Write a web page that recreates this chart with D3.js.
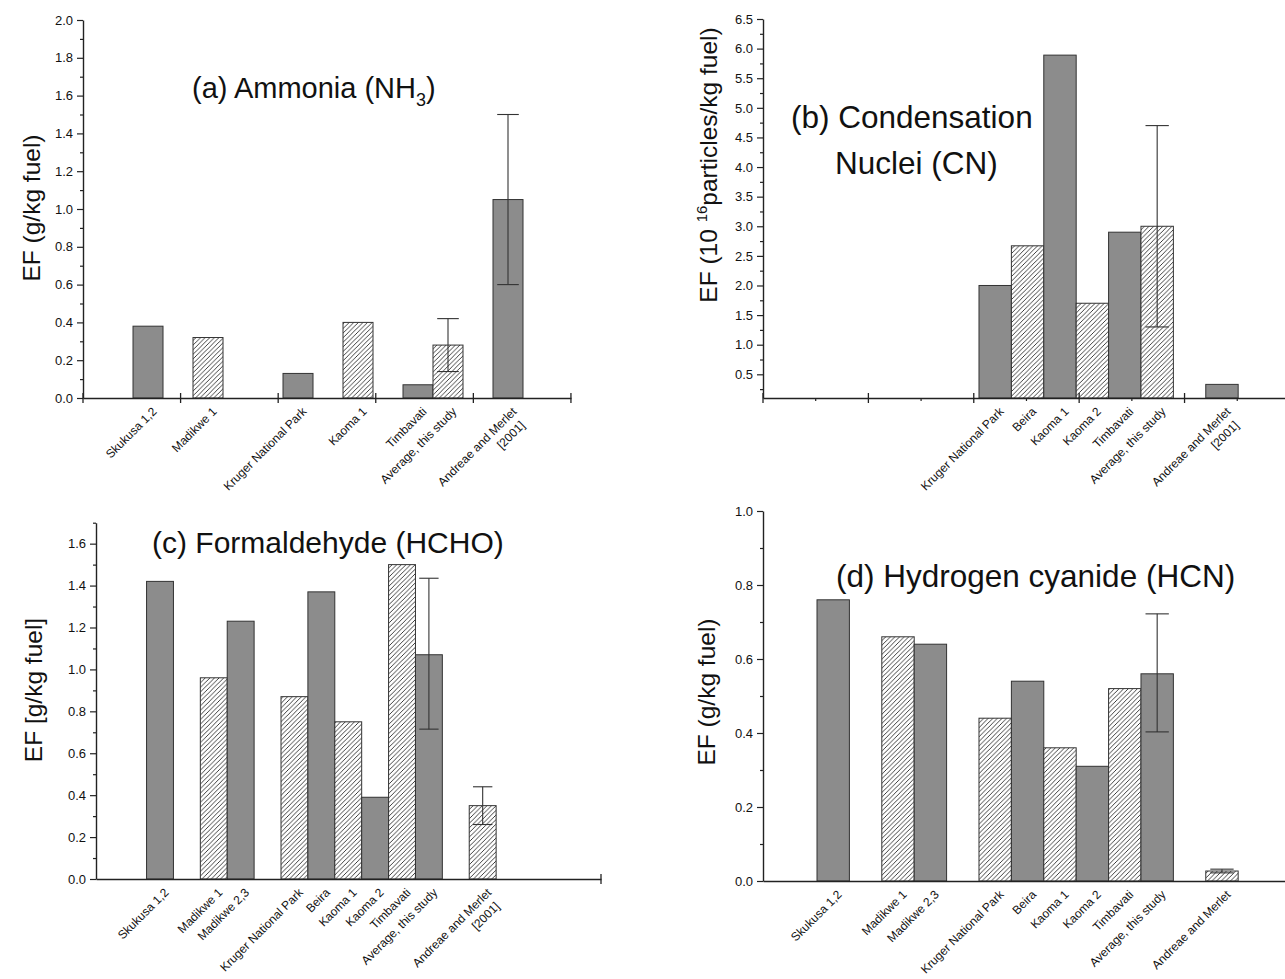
<!DOCTYPE html>
<html>
<head>
<meta charset="utf-8">
<script src="https://cdn.jsdelivr.net/npm/d3@7"></script>
<style>
  html, body { margin: 0; padding: 0; background: #fff; }
  svg { display: block; font-family: "Liberation Sans", Arial, Helvetica, sans-serif; }
</style>
</head>
<body>
<svg id="chart" width="1285" height="979"></svg>
<script>
// ---------------- DATA ----------------
const categories = ["Skukusa 1,2", "Madikwe 1", "Madikwe 2,3", "Kruger National Park", "Beira",
                    "Kaoma 1", "Kaoma 2", "Timbavati", "Average, this study", "Andreae and Merlet"];
// x position of each category on the (numeric) category axis
const categoryX = [0, 2, 3, 5, 6, 7, 8, 9, 10, 12];
const refYear = "[2001]";

// (a) Ammonia EF, g/kg fuel
const ammonia     = [0.38, 0.32, null, 0.13, null, 0.40, null, 0.07, 0.28, 1.05];
const ammoniaLow  = [null, null, null, null, null, null, null, null, 0.14, 0.60];
const ammoniaHigh = [null, null, null, null, null, null, null, null, 0.42, 1.50];

// (b) Condensation nuclei EF, 10^16 particles/kg fuel
const cn     = [null, null, null, 2.00, 2.67, 5.89, 1.70, 2.90, 3.00, 0.33];
const cnLow  = [null, null, null, null, null, null, null, null, 1.30, null];
const cnHigh = [null, null, null, null, null, null, null, null, 4.70, null];

// (c) Formaldehyde EF, g/kg fuel
const hcho     = [1.42, 0.96, 1.23, 0.87, 1.37, 0.75, 0.39, 1.50, 1.07, 0.35];
const hchoLow  = [null, null, null, null, null, null, null, null, 0.715, 0.26];
const hchoHigh = [null, null, null, null, null, null, null, null, 1.435, 0.44];

// (d) Hydrogen cyanide EF, g/kg fuel
const hcn     = [0.76, 0.66, 0.64, 0.44, 0.54, 0.36, 0.31, 0.52, 0.56, 0.027];
const hcnLow  = [null, null, null, null, null, null, null, null, 0.403, 0.022];
const hcnHigh = [null, null, null, null, null, null, null, null, 0.722, 0.032];

// y tick values
const ticksA = [0.0, 0.2, 0.4, 0.6, 0.8, 1.0, 1.2, 1.4, 1.6, 1.8, 2.0];
const minorA = [0.1, 0.3, 0.5, 0.7, 0.9, 1.1, 1.3, 1.5, 1.7, 1.9];
const ticksB = [0.5, 1.0, 1.5, 2.0, 2.5, 3.0, 3.5, 4.0, 4.5, 5.0, 5.5, 6.0, 6.5];
const minorB = [0.25, 0.75, 1.25, 1.75, 2.25, 2.75, 3.25, 3.75, 4.25, 4.75, 5.25, 5.75, 6.25];
const ticksC = [0.0, 0.2, 0.4, 0.6, 0.8, 1.0, 1.2, 1.4, 1.6];
const minorC = [0.1, 0.3, 0.5, 0.7, 0.9, 1.1, 1.3, 1.5, 1.7];
const ticksD = [0.0, 0.2, 0.4, 0.6, 0.8, 1.0];
const minorD = [0.1, 0.3, 0.5, 0.7, 0.9];

// ---------------- DRAWING ----------------
const svg = d3.select("#chart");
svg.append("rect").attr("width", 1285).attr("height", 979).attr("fill", "#fff");

const defs = svg.append("defs");
const pat = defs.append("pattern").attr("id", "hatch")
  .attr("patternUnits", "userSpaceOnUse").attr("width", 4.6).attr("height", 4.6);
pat.append("rect").attr("width", 4.6).attr("height", 4.6).attr("fill", "#fff");
pat.append("path").attr("d", "M-1,1 l2,-2 M0,4.6 l4.6,-4.6 M3.6,5.6 l2,-2")
  .attr("stroke", "#111").attr("stroke-width", 0.8);

const GRAY = "#8c8c8c";
const AX = "#222";

function fmt(v) { return d3.format(".1f")(v); }

function panel(cfg) {
  const g = svg.append("g");
  const x = d3.scaleLinear().domain(cfg.xDom).range(cfg.xPx);
  const y = d3.scaleLinear().domain(cfg.yDom).range(cfg.yPx);
  const slot = x(1) - x(0);
  const y0 = cfg.yPx[0];

  // bars
  const present = cfg.values.map((v, i) => ({ v, i })).filter(d => d.v !== null);
  present.forEach((d, k) => {
    const cx = x(categoryX[d.i]);
    g.append("rect")
      .attr("x", cx - slot / 2).attr("width", slot)
      .attr("y", y(d.v)).attr("height", y0 - y(d.v))
      .attr("fill", k % 2 === 0 ? GRAY : "url(#hatch)")
      .attr("stroke", "#333").attr("stroke-width", 1);
  });

  // error bars
  cfg.values.forEach((v, i) => {
    if (cfg.low[i] === null) return;
    const cx = x(categoryX[i]);
    const cap = slot * 0.36;
    g.append("line").attr("x1", cx).attr("x2", cx)
      .attr("y1", y(cfg.low[i])).attr("y2", y(cfg.high[i]))
      .attr("stroke", "#333").attr("stroke-width", 1.1);
    [cfg.low[i], cfg.high[i]].forEach(e => {
      g.append("line").attr("x1", cx - cap).attr("x2", cx + cap)
        .attr("y1", y(e)).attr("y2", y(e))
        .attr("stroke", "#333").attr("stroke-width", 1.1);
    });
  });

  // y axis
  const yAxis = d3.axisLeft(y).tickValues(cfg.yTicks).tickFormat(fmt)
    .tickSizeInner(6).tickSizeOuter(0).tickPadding(4);
  const ya = g.append("g").attr("transform", `translate(${cfg.xPx[0]},0)`).call(yAxis);
  ya.select(".domain").attr("stroke", AX).attr("stroke-width", 1.4);
  ya.selectAll(".tick line").attr("stroke", AX).attr("stroke-width", 1.2);
  ya.selectAll("text").attr("font-size", 13).attr("fill", "#111")
    .attr("font-family", "Liberation Sans, Arial, sans-serif");
  const yMinor = d3.axisLeft(y).tickValues(cfg.yMinor).tickFormat("").tickSizeInner(3).tickSizeOuter(0);
  const ym = g.append("g").attr("transform", `translate(${cfg.xPx[0]},0)`).call(yMinor);
  ym.select(".domain").remove();
  ym.selectAll(".tick line").attr("stroke", AX).attr("stroke-width", 1.2);

  // x axis
  const xa = g.append("g").attr("transform", `translate(0,${y0})`)
    .call(d3.axisBottom(x).tickValues([]).tickSizeOuter(0));
  xa.select(".domain").attr("stroke", AX).attr("stroke-width", 1.4);
  (cfg.xTicks || []).forEach(t => {
    g.append("line").attr("x1", x(t)).attr("x2", x(t)).attr("y1", y0 - 5).attr("y2", y0 + 5)
      .attr("stroke", AX).attr("stroke-width", 1.3);
  });
  (cfg.xMinor || []).forEach(t => {
    g.append("line").attr("x1", x(t)).attr("x2", x(t)).attr("y1", y0).attr("y2", y0 + 3)
      .attr("stroke", AX).attr("stroke-width", 1.2);
  });

  // category labels
  present.forEach(d => {
    const cx = x(categoryX[d.i]);
    const t = g.append("text")
      .attr("transform", `translate(${cx + 3},${y0 + 8}) rotate(-45)`)
      .attr("text-anchor", "end").attr("font-size", 12).attr("fill", "#111");
    t.append("tspan").attr("x", 0).attr("dy", "0.75em").text(categories[d.i]);
    if (d.i === categories.length - 1 && cfg.showYear) {
      t.append("tspan").attr("x", -4).attr("dy", "1.3em").text(refYear);
    }
  });

  // y title
  const yt = g.append("text")
    .attr("transform", `translate(${cfg.yTitlePos[0]},${cfg.yTitlePos[1]}) rotate(-90)`)
    .attr("text-anchor", "middle").attr("font-size", 24.5).attr("fill", "#111");
  cfg.yTitle(yt);

  // title
  cfg.title(g);
}

const slotXTicks = [0, 1, 2, 3, 4, 5].map(k => -2.167 + k * 3.253);
const slotXMinor = [0, 1, 2, 3, 4].map(k => -2.167 + (k + 0.5) * 3.253);

// (a)
panel({
  values: ammonia, low: ammoniaLow, high: ammoniaHigh,
  xDom: [-2.167, 14.1], xPx: [83, 571],
  yDom: [0, 2.0], yPx: [398, 20], yTicks: ticksA, yMinor: minorA,
  xTicks: slotXTicks, showYear: true,
  yTitlePos: [40, 208],
  yTitle: t => t.text("EF (g/kg fuel)"),
  title: g => {
    const t = g.append("text").attr("x", 192).attr("y", 98).attr("font-size", 29).attr("fill", "#111");
    t.append("tspan").text("(a) Ammonia (NH");
    t.append("tspan").attr("font-size", 18).attr("dy", 8).text("3");
    t.append("tspan").attr("dy", -8).text(")");
  }
});

// (b)
panel({
  values: cn, low: cnLow, high: cnHigh,
  xDom: [-2.167, 14.1], xPx: [763, 1290],
  yDom: [0.1, 6.5], yPx: [398, 19], yTicks: ticksB, yMinor: minorB,
  xTicks: slotXTicks, xMinor: slotXMinor, showYear: true,
  yTitlePos: [717, 165],
  yTitle: t => {
    t.append("tspan").text("EF (10 ");
    t.append("tspan").attr("font-size", 15).attr("dy", -10).text("16");
    t.append("tspan").attr("dy", 10).text("particles/kg fuel)");
  },
  title: g => {
    g.append("text").attr("x", 791).attr("y", 128).attr("font-size", 31.5).attr("fill", "#111").text("(b) Condensation");
    g.append("text").attr("x", 835).attr("y", 174).attr("font-size", 31.5).attr("fill", "#111").text("Nuclei (CN)");
  }
});

// (c)
panel({
  values: hcho, low: hchoLow, high: hchoHigh,
  xDom: [-2.38, 16.4], xPx: [96, 601],
  yDom: [0, 1.7], yPx: [879, 522.7], yTicks: ticksC, yMinor: minorC,
  xTicks: [16.4], showYear: true,
  yTitlePos: [42, 690],
  yTitle: t => t.text("EF [g/kg fuel]"),
  title: g => {
    g.append("text").attr("x", 152).attr("y", 553).attr("font-size", 30).attr("fill", "#111").text("(c) Formaldehyde (HCHO)");
  }
});

// (d)
panel({
  values: hcn, low: hcnLow, high: hcnHigh,
  xDom: [-2.167, 14.1], xPx: [763, 1290],
  yDom: [0, 1.0], yPx: [881, 511], yTicks: ticksD, yMinor: minorD,
  xTicks: [], showYear: false,
  yTitlePos: [715, 692],
  yTitle: t => t.text("EF (g/kg fuel)"),
  title: g => {
    g.append("text").attr("x", 836).attr("y", 587).attr("font-size", 31.5).attr("fill", "#111").text("(d) Hydrogen cyanide (HCN)");
  }
});
</script>
</body>
</html>
